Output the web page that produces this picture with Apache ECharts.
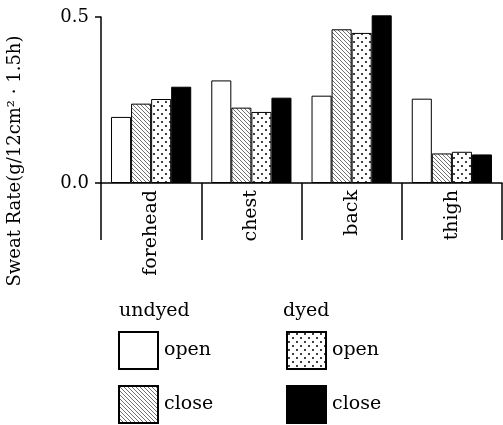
<!DOCTYPE html>
<html>
<head>
<meta charset="utf-8">
<script src="https://cdn.jsdelivr.net/npm/echarts@6/dist/echarts.min.js"></script>
<style>
html,body{margin:0;padding:0;background:#fff;}
#c{width:503px;height:425px;}
</style>
</head>
<body>
<div id="c"></div>
<script>
var categories = ['forehead', 'chest', 'back', 'thigh'];
var undyedOpen  = [0.199, 0.309, 0.263, 0.254];
var undyedClose = [0.239, 0.227, 0.463, 0.089];
var dyedOpen    = [0.253, 0.214, 0.452, 0.094];
var dyedClose   = [0.290, 0.257, 0.505, 0.086];
var yTicks = [0.0, 0.5];
var yAxisTitle = 'Sweat Rate(g/12cm² · 1.5h)';
var groupUndyed = 'undyed';
var groupDyed = 'dyed';

var FONT = '"DejaVu Serif", serif';

function hatchPattern() {
  var c = document.createElement('canvas');
  c.width = 4; c.height = 4;
  var g = c.getContext('2d');
  g.fillStyle = '#fff'; g.fillRect(0, 0, 4, 4);
  g.strokeStyle = '#333'; g.lineWidth = 0.7;
  g.beginPath();
  g.moveTo(-1, -1); g.lineTo(5, 5);
  g.moveTo(-1, 3); g.lineTo(1, 5);
  g.moveTo(3, -1); g.lineTo(5, 1);
  g.stroke();
  return { image: c, repeat: 'repeat' };
}
function dotPattern() {
  var c = document.createElement('canvas');
  c.width = 8; c.height = 8;
  var g = c.getContext('2d');
  g.fillStyle = '#fff'; g.fillRect(0, 0, 8, 8);
  g.fillStyle = '#000';
  g.beginPath(); g.arc(2, 2, 1, 0, Math.PI * 2); g.fill();
  g.beginPath(); g.arc(6, 6, 1, 0, Math.PI * 2); g.fill();
  return { image: c, repeat: 'repeat' };
}

var names = ['undyed open', 'undyed close', 'dyed open', 'dyed close'];
var datas = [undyedOpen, undyedClose, dyedOpen, dyedClose];
var fills = ['#ffffff', hatchPattern(), dotPattern(), '#000000'];

var series = names.map(function (n, i) {
  return {
    name: n,
    type: 'bar',
    data: datas[i],
    barGap: '0%',
    barCategoryGap: '20%',
    clip: false,
    itemStyle: { color: fills[i], borderColor: '#000', borderWidth: 1 },
    emphasis: { disabled: true }
  };
});

var legendPos = [[118, 331], [118, 385], [286, 331], [286, 385]];
var legends = names.map(function (n, i) {
  return {
    left: legendPos[i][0],
    top: legendPos[i][1],
    padding: 0,
    itemWidth: 39,
    itemHeight: 37,
    icon: 'rect',
    selectedMode: false,
    data: [n],
    formatter: function (s) { return s.split(' ')[1]; },
    textStyle: { fontFamily: FONT, fontSize: 19, color: '#000', padding: [0, 0, 0, 1] }
  };
});

var chart = echarts.init(document.getElementById('c'), null, { renderer: 'canvas' });
chart.setOption({
  animation: false,
  backgroundColor: '#fff',
  grid: { left: 101, right: 1, top: 17, bottom: 242 },
  xAxis: {
    type: 'category',
    data: categories,
    axisLine: { lineStyle: { color: '#000', width: 1.5 } },
    axisTick: { show: true, length: 57, interval: 0, lineStyle: { color: '#000', width: 1.5 } },
    axisLabel: { rotate: 90, margin: 7, interval: 0, fontFamily: FONT, fontSize: 19, color: '#000' },
    splitLine: { show: false }
  },
  yAxis: {
    type: 'value',
    min: yTicks[0],
    max: yTicks[yTicks.length - 1],
    interval: yTicks[1] - yTicks[0],
    axisLine: { show: true, lineStyle: { color: '#000', width: 1.5 } },
    axisTick: { show: true, length: 6, lineStyle: { color: '#000', width: 1.5 } },
    axisLabel: { margin: 12, fontFamily: FONT, fontSize: 18, color: '#000',
      formatter: function (v) { return v.toFixed(1); } },
    splitLine: { show: false }
  },
  legend: legends,
  graphic: [
    { type: 'text', x: 15, y: 161, rotation: Math.PI / 2,
      style: { text: yAxisTitle, font: '18px "DejaVu Serif", serif', fill: '#000',
        textAlign: 'center', textVerticalAlign: 'middle', verticalAlign: 'middle' } },
    { type: 'text', left: 119, top: 302,
      style: { text: groupUndyed, font: '19px "DejaVu Serif", serif', fill: '#000' } },
    { type: 'text', left: 283, top: 302,
      style: { text: groupDyed, font: '19px "DejaVu Serif", serif', fill: '#000' } }
  ],
  series: series
});
</script>
</body>
</html>
